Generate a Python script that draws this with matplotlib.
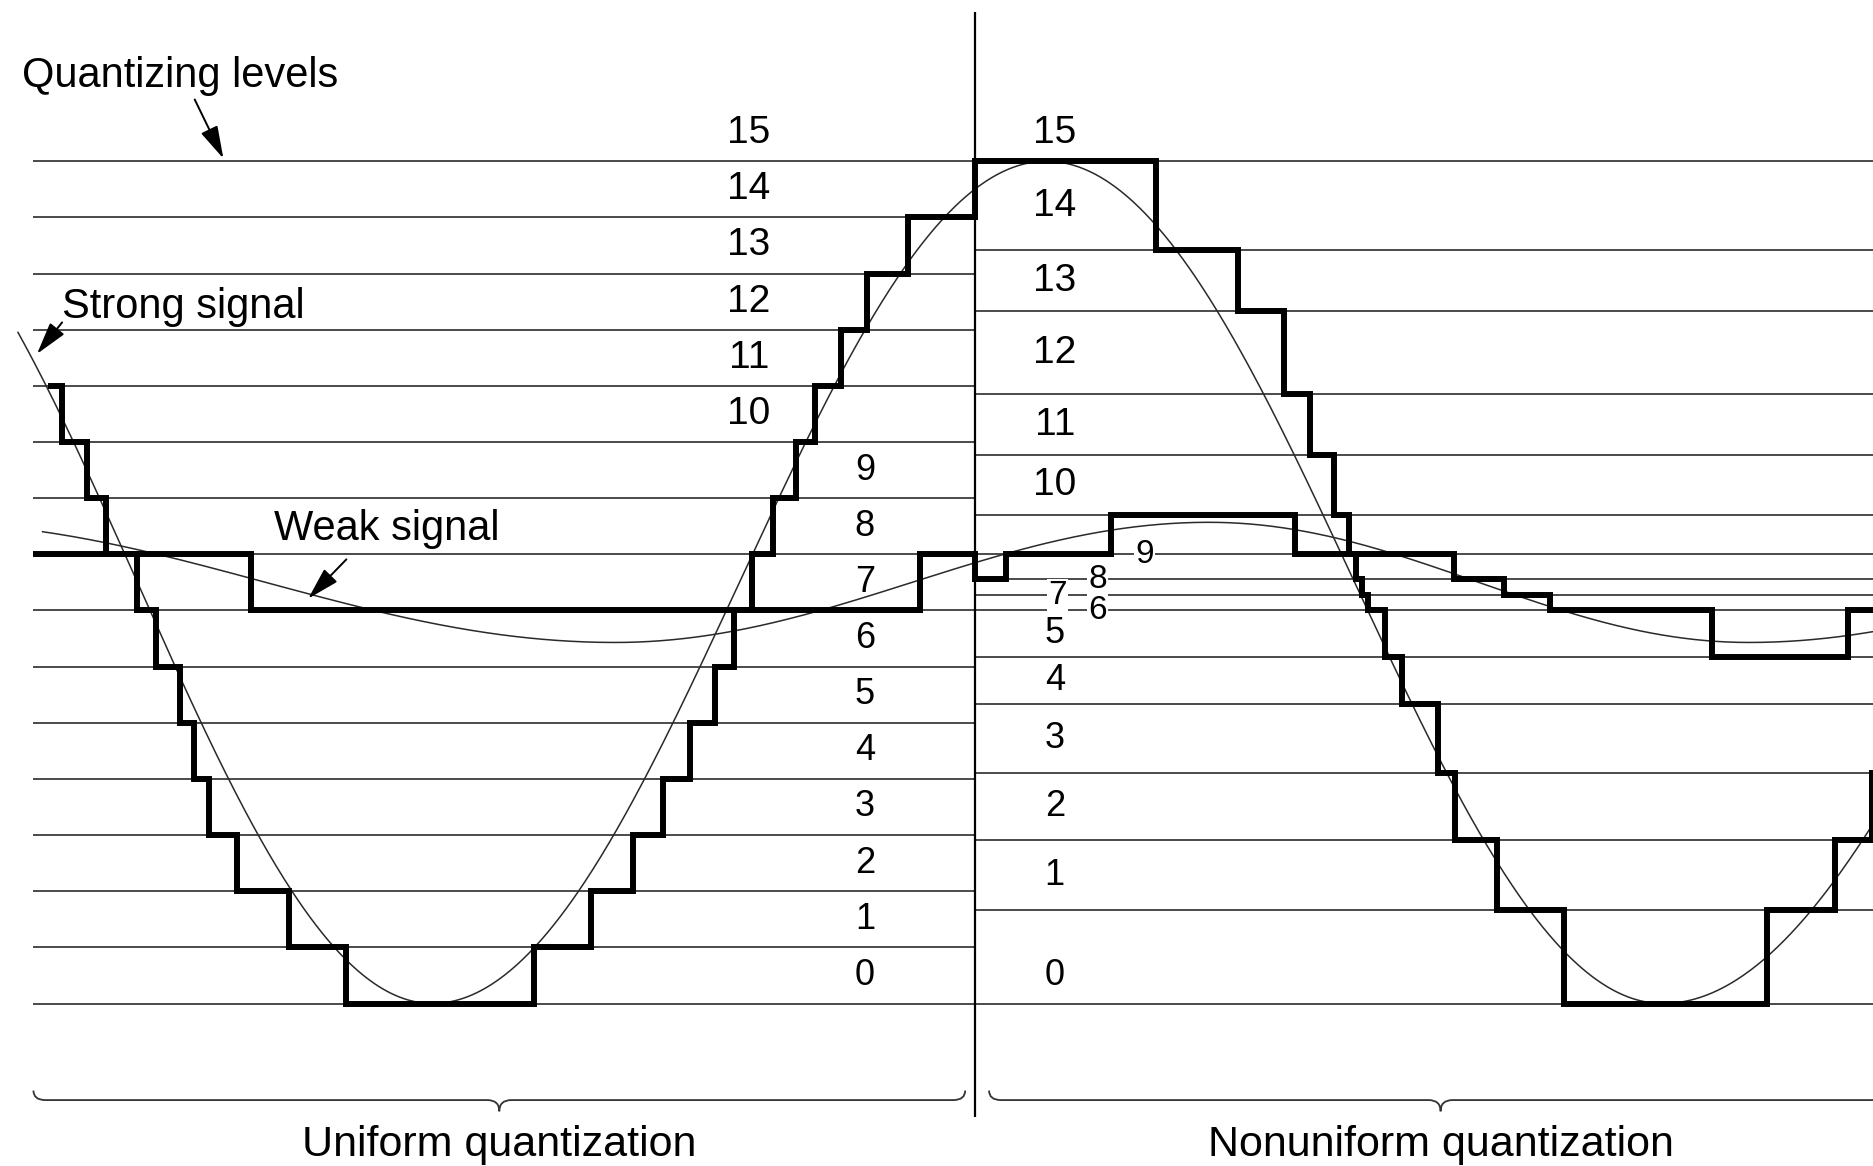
import numpy as np
import matplotlib
matplotlib.use('Agg')
import matplotlib.pyplot as plt
from matplotlib.path import Path
from matplotlib.patches import PathPatch

plt.rcParams['font.family'] = ['Liberation Sans', 'DejaVu Sans']

# time axis in arbitrary units, heights in units of one uniform step
split_t = 816.5                 # uniform quantizer on the left, nonuniform on the right
left_span = (28, split_t)
right_span = (split_t, 1568)

uniform_levels = list(range(16))
nonuniform_levels = [0, 1.66, 2.915, 4.106, 5.34, 6.166, 7.0, 7.272, 7.557,
                     8.0, 8.694, 9.766, 10.855, 12.33, 13.417, 15.0]
level_names = [str(i) for i in range(16)]

# analog signals, given by their turning points (time, height)
strong_ext_t = [-132, 362, 876, 1392, 1968]
strong_ext_v = [15, 0, 15, 0, 15]
strong_start = 15
weak_ext_t = [-70, 515, 1012, 1464, 2000]
weak_ext_v = [8.57, 6.43, 8.57, 6.43, 8.57]
weak_start = 35

# quantized outputs: step edges and the level index held on each step
strong_left_edges = [40, 52, 72.6, 88.7, 114.4, 131, 151, 162, 174.6, 198.6, 242, 290,
                     447, 495, 530, 555, 578, 598.8, 614.8, 629.3, 647, 666, 682.3,
                     704.1, 726.1, 760.4, 816.5]
strong_left_idx = [11, 10, 9, 8, 7, 6, 5, 4, 3, 2, 1, 0,
                   1, 2, 3, 4, 5, 6, 7, 8, 9, 10, 11, 12, 13, 14]
strong_right_edges = [816.5, 968, 1036.5, 1075, 1097, 1117, 1129, 1135, 1140, 1145,
                      1159.5, 1174, 1204, 1218, 1253, 1309.5, 1479, 1536, 1567, 1568]
strong_right_idx = [15, 14, 13, 12, 11, 10, 9, 8, 7, 6, 5, 4, 3, 2, 1, 0, 1, 2, 3]
weak_left_edges = [28, 210, 770, 816.5]
weak_left_idx = [8, 7, 8]
weak_right_edges = [816.5, 842.4, 930.4, 1084, 1217, 1259.5, 1298, 1433, 1547, 1568]
weak_right_idx = [8, 9, 10, 9, 8, 7, 6, 5, 6]


def wave(ext_t, ext_v, t0, t1):
    ts, vs = [], []
    for i in range(len(ext_t) - 1):
        t = np.linspace(ext_t[i], ext_t[i + 1], 300)
        mid = (ext_v[i] + ext_v[i + 1]) / 2
        amp = (ext_v[i] - ext_v[i + 1]) / 2
        ts.append(t)
        vs.append(mid + amp * np.cos(np.pi * (t - ext_t[i]) / (ext_t[i + 1] - ext_t[i])))
    t = np.concatenate(ts)
    v = np.concatenate(vs)
    keep = (t >= t0) & (t <= t1)
    return t[keep], v[keep]


def staircase(le, li, re, ri):
    x = le[:-1] + re
    y = [uniform_levels[i] for i in li] + [nonuniform_levels[i] for i in ri]
    return x, y + [y[-1]]


def brace(ax, x0, x1, xc, y_end, y_mid, y_tip, r=10):
    verts = [(x0, y_end), (x0, y_mid), (x0 + r, y_mid), (xc - r, y_mid),
             (xc, y_mid), (xc, y_tip), (xc, y_mid), (xc + r, y_mid),
             (x1 - r, y_mid), (x1, y_mid), (x1, y_end)]
    codes = [Path.MOVETO, Path.CURVE3, Path.CURVE3, Path.LINETO,
             Path.CURVE3, Path.CURVE3, Path.CURVE3, Path.CURVE3,
             Path.LINETO, Path.CURVE3, Path.CURVE3]
    ax.add_patch(PathPatch(Path(verts, codes), fill=False, lw=1.3, color='#333333'))


fig = plt.figure(figsize=(18.73, 11.66), dpi=100)
ax = fig.add_axes([0, 0, 1, 1])
ax.set_xlim(0, 1568)
ax.set_ylim(-2.894, 17.872)
ax.axis('off')

# quantizing levels
ax.hlines(uniform_levels, *left_span, color='#4a4a4a', lw=1.4, zorder=1)
ax.hlines(nonuniform_levels, *right_span, color='#4a4a4a', lw=1.4, zorder=1)
ax.vlines(split_t, -2.02, 17.66, color='black', lw=1.6, zorder=4)

# level numbers
for k in range(16):
    if k >= 10:
        ax.text(627, k + 0.5, level_names[k], fontsize=28, ha='center', va='center')
    else:
        ax.text(724, k + 0.5, level_names[k], fontsize=26, ha='center', va='center')

inline_x = {9: 958, 8: 919, 7: 885.5, 6: 919}
for k in range(16):
    if k in inline_x:
        ax.text(inline_x[k], nonuniform_levels[k], level_names[k], fontsize=24,
                ha='center', va='center', zorder=2,
                bbox=dict(facecolor='white', edgecolor='none', pad=0.8))
    elif k == 0:
        ax.text(883, 0.5, level_names[k], fontsize=26, ha='center', va='center')
    else:
        top = nonuniform_levels[k + 1] if k < 15 else 16
        ax.text(883, (nonuniform_levels[k] + top) / 2, level_names[k],
                fontsize=28 if k >= 10 else 26, ha='center', va='center')

# analog signals
for ext_t, ext_v, t0 in [(strong_ext_t, strong_ext_v, strong_start),
                         (weak_ext_t, weak_ext_v, weak_start)]:
    t, v = wave(ext_t, ext_v, t0, right_span[1])
    ax.plot(t, v, color='#2a2a2a', lw=1.1, zorder=3)

# quantized signals
for le, li, re, ri in [(strong_left_edges, strong_left_idx, strong_right_edges, strong_right_idx),
                       (weak_left_edges, weak_left_idx, weak_right_edges, weak_right_idx)]:
    x, y = staircase(le, li, re, ri)
    ax.step(x, y, where='post', color='black', lw=4.3, zorder=3,
            solid_joinstyle='miter', solid_capstyle='butt')

# annotations
arrow = dict(arrowstyle='-|>,head_length=1.0,head_width=0.28', color='black',
             lw=1.4, shrinkA=0, shrinkB=0, mutation_scale=20)
ax.text(18, 16.32, 'Quantizing levels', fontsize=30, ha='left', va='baseline')
ax.annotate('', xy=(187, 15.05), xytext=(163, 16.1), arrowprops=arrow)
ax.text(52, 12.21, 'Strong signal', fontsize=30, ha='left', va='baseline')
ax.annotate('', xy=(31, 11.57), xytext=(52, 12.13), arrowprops=arrow)
ax.text(229, 8.26, 'Weak signal', fontsize=30, ha='left', va='baseline')
ax.annotate('', xy=(258, 7.21), xytext=(290, 7.91), arrowprops=arrow)

brace(ax, 28, 808, 418, -1.55, -1.72, -1.92)
brace(ax, 828, 1600, 1206, -1.55, -1.72, -1.92)
ax.text(418, -2.72, 'Uniform quantization', fontsize=31, ha='center', va='baseline')
ax.text(1206, -2.72, 'Nonuniform quantization', fontsize=31, ha='center', va='baseline')

fig.savefig('out.png', dpi=100, facecolor='white')
